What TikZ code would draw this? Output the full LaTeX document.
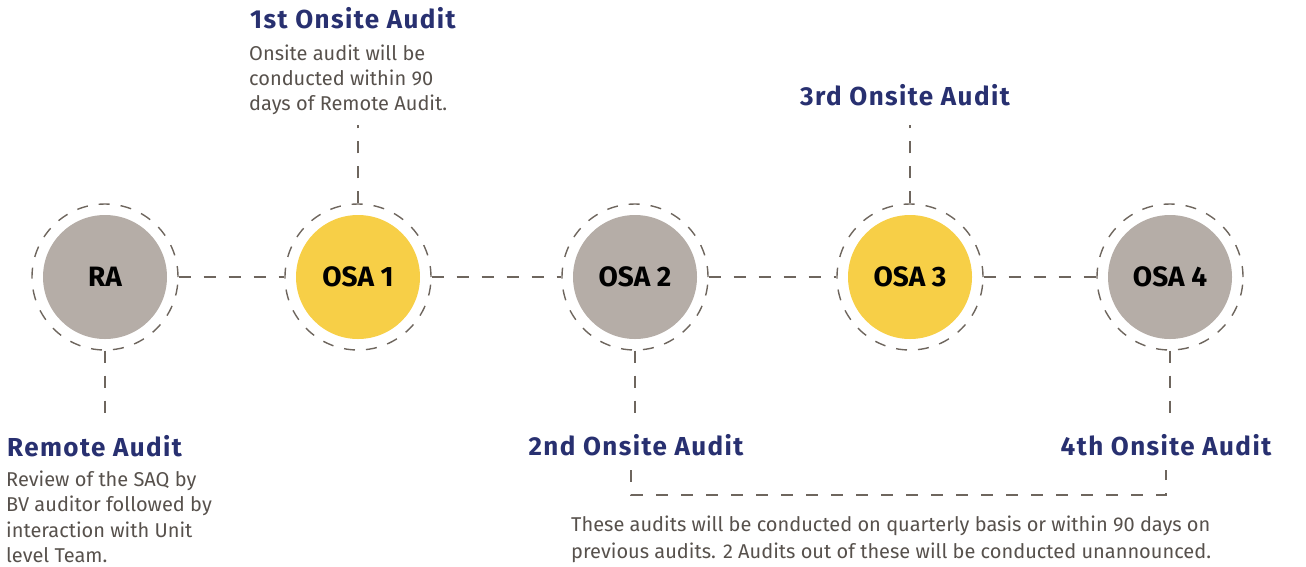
\documentclass[tikz,border=0pt]{standalone}
\usepackage{fontspec}
\setmainfont{Fira Sans}
\newfontfamily\ttlfont{Fira Sans}[LetterSpace=5.5]
\definecolor{greyc}{HTML}{B5ADA7}
\definecolor{yellowc}{HTML}{F7CF47}
\definecolor{dashc}{HTML}{6E665E}
\definecolor{navy}{HTML}{283070}
\definecolor{bodyc}{HTML}{57514C}
\tikzset{
  disc/.style={circle, minimum size=124pt, inner sep=0pt, font=\bfseries\fontsize{28}{30}\selectfont, text=black},
  ring/.style={circle, minimum size=146pt, inner sep=0pt, draw=dashc, line width=1.4pt, dash pattern=on 11pt off 11pt},
  conn/.style={draw=dashc, line width=1.4pt, dash pattern=on 12pt off 13pt},
  ttl/.style={font=\ttlfont\bfseries\fontsize{26}{28}\selectfont, text=navy, inner sep=0pt},
  body/.style={font=\fontsize{20}{26}\selectfont, text=bodyc, inner sep=0pt, anchor=base west}
}
\begin{document}
\begin{tikzpicture}[x=1pt,y=-1pt]
\useasboundingbox (0,0) rectangle (1306,566);
% discs
\node[disc, fill=greyc] (ra) at (105,277) {RA};
\node[disc, fill=yellowc] (osa1) at (358,277) {OSA 1};
\node[disc, fill=greyc] (osa2) at (635,277) {OSA 2};
\node[disc, fill=yellowc] (osa3) at (910,277) {OSA 3};
\node[disc, fill=greyc] (osa4) at (1170,277) {OSA 4};
% rings
\node[ring] (raR) at (ra) {};
\node[ring] (osa1R) at (osa1) {};
\node[ring] (osa2R) at (osa2) {};
\node[ring] (osa3R) at (osa3) {};
\node[ring] (osa4R) at (osa4) {};
% horizontal connectors
\draw[conn] (raR.east) -- (osa1R.west);
\draw[conn] (osa1R.east) -- (osa2R.west);
\draw[conn] (osa2R.east) -- (osa3R.west);
\draw[conn] (osa3R.east) -- (osa4R.west);
% titles
\node[ttl, anchor=base west] (tRA) at (7,456) {Remote Audit};
\node[ttl, anchor=base west] (t1) at (250,28) {1st Onsite Audit};
\node[ttl, anchor=base] (t3) at (905,105) {3rd Onsite Audit};
\node[ttl, anchor=base] (t2) at (636,455) {2nd Onsite Audit};
\node[ttl, anchor=base] (t4) at (1166,455) {4th Onsite Audit};
% body texts
\node[body] (bRA1) at (6,486) {Review of the SAQ by};
\node[body] (bRA2) at (6,511.6) {BV auditor followed by};
\node[body] (bRA3) at (6,537.2) {interaction with Unit};
\node[body] (bRA4) at (6,562.8) {level Team.};
\node[body] (b11) at (249,60.5) {Onsite audit will be};
\node[body] (b12) at (249,85.5) {conducted within 90};
\node[body] (b13) at (249,110.5) {days of Remote Audit.};
\node[body] (b241) at (571,531.5) {These audits will be conducted on quarterly basis or within 90 days on};
\node[body] (b242) at (571,558.2) {previous audits. 2 Audits out of these will be conducted unannounced.};
% vertical connectors
\coordinate (raEnd) at (ra |- 0,425);
\coordinate (o1End) at (osa1 |- 0,125);
\coordinate (o3End) at (osa3 |- 0,125);
\coordinate (o2End) at (osa2 |- 0,425);
\coordinate (o4End) at (osa4 |- 0,425);
\draw[conn] (raR.south) -- (raEnd);
\draw[conn] (osa1R.north) -- (o1End);
\draw[conn] (osa3R.north) -- (o3End);
\draw[conn] (osa2R.south) -- (o2End);
\draw[conn] (osa4R.south) -- (o4End);
% bracket below 2nd and 4th
\coordinate (bl) at (631,495);
\coordinate (br) at (1166,495);
\draw[conn] (631,470) -- (bl) -- (br) -- (1166,470);
\end{tikzpicture}
\end{document}
